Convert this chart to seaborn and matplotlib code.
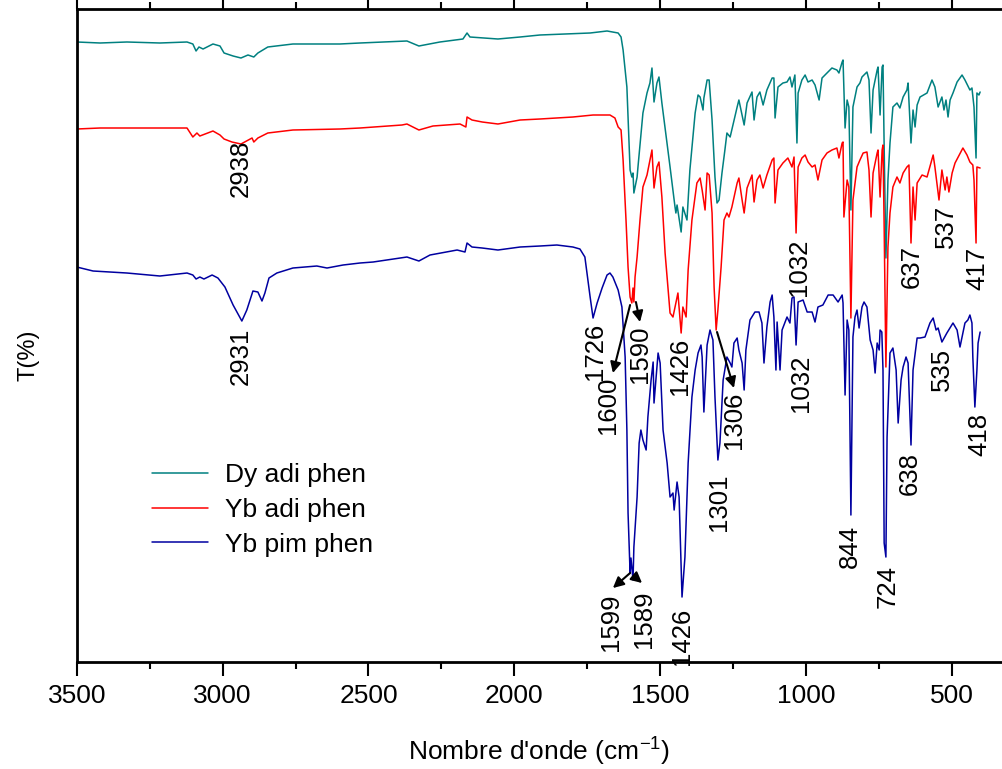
import matplotlib
matplotlib.use('Agg')
import matplotlib.pyplot as plt
import seaborn as sns
import pandas as pd

# spectra: wavenumber (cm-1) and transmittance (offset, arbitrary %)
dy_adi_wn = [3500, 3420, 3328, 3215, 3122, 3102, 3091, 3081, 3067, 3033,
             3009, 2995, 2964, 2937, 2913, 2893, 2879, 2845, 2759, 2598,
             2529, 2368, 2327, 2255, 2176, 2162, 2152, 2056, 1980, 1912,
             1740, 1682, 1644, 1634, 1627, 1614, 1603, 1597, 1593, 1590,
             1579, 1576, 1559, 1545, 1535, 1528, 1524, 1521, 1511, 1504,
             1494, 1466, 1449, 1446, 1442, 1428, 1422, 1408, 1398, 1380,
             1370, 1363, 1353, 1350, 1339, 1332, 1322, 1312, 1305, 1298,
             1288, 1278, 1271, 1260, 1236, 1230, 1219, 1212, 1202, 1185,
             1178, 1168, 1158, 1147, 1134, 1116, 1110, 1106, 1096, 1079,
             1065, 1055, 1048, 1038, 1031, 1027, 1014, 1003, 993, 979,
             969, 955, 945, 928, 911, 894, 887, 876, 873, 866,
             859, 853, 846, 839, 825, 815, 808, 791, 784, 777,
             770, 756, 753, 746, 739, 736, 732, 726, 719, 712,
             702, 688, 678, 667, 654, 650, 640, 633, 626, 619,
             609, 585, 568, 558, 547, 534, 527, 520, 513, 506,
             496, 482, 465, 455, 438, 431, 424, 417, 414, 407,
             403]
dy_adi_t = [61.8, 61.7, 61.8, 61.7, 61.8, 61.6, 60.9, 61.3, 61.1, 61.6,
            61.4, 60.7, 60.4, 60.2, 60.5, 60.3, 60.7, 61.3, 61.6, 61.6,
            61.7, 61.9, 61.4, 61.8, 62.1, 62.7, 62.3, 62.1, 62.3, 62.5,
            62.7, 62.9, 62.7, 62.3, 61.0, 57.3, 49.0, 48.3, 48.7, 46.7,
            48.3, 49.3, 54.7, 56.7, 57.7, 59.2, 57.3, 55.8, 57.7, 58.3,
            55.7, 49.3, 45.3, 44.7, 45.5, 42.8, 45.3, 44.0, 49.0, 54.7,
            56.5, 56.3, 55.0, 56.2, 58.0, 58.0, 54.0, 48.3, 45.7, 46.0,
            48.7, 51.0, 52.7, 52.3, 55.3, 56.0, 54.5, 53.5, 55.7, 56.8,
            54.0, 56.3, 56.8, 55.5, 57.0, 58.2, 58.2, 54.2, 57.3, 57.7,
            57.8, 58.3, 57.3, 58.5, 51.7, 56.7, 58.0, 58.5, 57.8, 58.0,
            57.5, 56.0, 58.2, 58.7, 59.2, 59.0, 58.7, 59.8, 60.0, 53.2,
            56.0, 55.3, 45.0, 55.3, 57.3, 57.7, 58.3, 58.8, 58.0, 52.7,
            57.0, 59.0, 59.3, 54.5, 59.3, 59.5, 51.3, 40.2, 48.0, 51.7,
            55.3, 55.7, 55.2, 56.3, 57.0, 57.7, 51.7, 55.0, 53.3, 55.5,
            56.3, 56.7, 58.0, 57.3, 55.3, 56.3, 55.0, 56.0, 54.3, 56.0,
            56.7, 57.8, 58.5, 58.0, 57.0, 57.2, 55.3, 50.2, 56.7, 56.5,
            56.8]

yb_adi_wn = [3500, 3420, 3328, 3215, 3122, 3102, 3088, 3078, 3033, 3009,
             2995, 2968, 2937, 2899, 2893, 2879, 2845, 2759, 2598, 2529,
             2385, 2368, 2327, 2279, 2186, 2166, 2162, 2145, 2110, 2056,
             1980, 1912, 1799, 1730, 1672, 1655, 1644, 1634, 1627, 1617,
             1610, 1603, 1597, 1593, 1590, 1586, 1579, 1569, 1559, 1545,
             1535, 1528, 1521, 1511, 1504, 1494, 1483, 1466, 1456, 1446,
             1439, 1428, 1422, 1411, 1404, 1391, 1374, 1363, 1356, 1346,
             1339, 1332, 1322, 1315, 1308, 1302, 1291, 1281, 1271, 1264,
             1254, 1236, 1230, 1219, 1212, 1202, 1185, 1178, 1168, 1158,
             1147, 1134, 1116, 1110, 1106, 1096, 1079, 1062, 1048, 1041,
             1034, 1027, 1014, 1003, 993, 979, 969, 959, 945, 928,
             911, 894, 887, 876, 873, 870, 859, 853, 846, 839,
             825, 815, 804, 791, 784, 777, 770, 756, 753, 746,
             739, 736, 732, 726, 719, 712, 702, 688, 678, 667,
             654, 647, 640, 633, 626, 619, 602, 585, 564, 558,
             544, 534, 523, 517, 510, 499, 489, 462, 448, 438,
             428, 424, 417, 414, 403]
yb_adi_t = [53.1, 53.2, 53.2, 53.2, 53.2, 52.3, 52.7, 52.4, 52.9, 52.5,
            52.1, 51.8, 51.6, 52.2, 51.8, 52.2, 52.7, 53.0, 53.1, 53.2,
            53.5, 53.6, 53.0, 53.4, 53.6, 53.3, 54.3, 54.0, 53.8, 53.6,
            54.0, 54.1, 54.3, 54.5, 54.5, 54.2, 53.3, 53.0, 50.0, 44.0,
            39.3, 36.3, 35.7, 37.2, 35.8, 38.3, 40.3, 44.0, 47.3, 48.5,
            50.0, 51.0, 47.2, 49.3, 49.8, 46.3, 40.7, 34.7, 34.3, 35.7,
            36.7, 32.7, 35.3, 34.3, 39.0, 44.0, 47.7, 48.2, 47.0, 45.0,
            48.7, 48.5, 44.7, 37.3, 33.0, 35.0, 39.3, 44.0, 44.7, 44.3,
            45.3, 47.7, 48.2, 46.0, 44.7, 47.2, 48.5, 45.8, 48.0, 48.5,
            47.2, 48.5, 50.0, 50.2, 45.7, 49.0, 49.7, 50.2, 49.3, 50.3,
            42.7, 49.3, 50.2, 50.5, 49.8, 49.3, 49.5, 48.0, 50.0, 50.7,
            51.0, 51.2, 50.2, 51.7, 51.8, 44.3, 48.0, 47.3, 34.2, 46.0,
            49.3, 50.0, 50.7, 50.8, 49.0, 44.3, 48.7, 50.7, 51.0, 46.3,
            51.0, 51.5, 43.3, 29.3, 41.3, 44.7, 47.3, 48.3, 47.7, 48.7,
            49.3, 49.5, 41.7, 47.3, 44.0, 47.7, 48.5, 48.3, 50.5, 49.3,
            46.0, 49.0, 47.0, 48.3, 46.8, 48.7, 49.7, 51.2, 50.5, 49.8,
            49.5, 48.0, 41.7, 49.3, 49.2]

yb_pim_wn = [3500, 3444, 3328, 3215, 3122, 3102, 3091, 3078, 3064, 3036,
             3016, 2992, 2964, 2934, 2917, 2896, 2879, 2865, 2855, 2841,
             2814, 2759, 2677, 2642, 2587, 2529, 2484, 2368, 2327, 2289,
             2196, 2169, 2162, 2145, 2110, 2056, 1980, 1912, 1854, 1799,
             1775, 1758, 1740, 1730, 1716, 1699, 1682, 1672, 1662, 1644,
             1631, 1620, 1614, 1610, 1603, 1600, 1593, 1590, 1579, 1572,
             1566, 1559, 1548, 1542, 1531, 1524, 1521, 1507, 1500, 1490,
             1476, 1466, 1456, 1452, 1442, 1435, 1425, 1415, 1404, 1391,
             1380, 1370, 1360, 1356, 1350, 1339, 1329, 1319, 1312, 1302,
             1295, 1284, 1271, 1260, 1254, 1247, 1236, 1230, 1219, 1212,
             1206, 1192, 1175, 1161, 1151, 1144, 1134, 1123, 1116, 1110,
             1103, 1099, 1089, 1082, 1065, 1055, 1048, 1041, 1034, 1027,
             1010, 996, 979, 969, 959, 942, 924, 907, 890, 876,
             873, 866, 859, 853, 846, 839, 832, 825, 818, 808,
             801, 791, 780, 770, 763, 756, 749, 746, 740, 736,
             732, 726, 722, 712, 702, 691, 684, 674, 667, 657,
             650, 640, 633, 619, 609, 592, 575, 564, 554, 547,
             534, 517, 496, 482, 472, 455, 445, 438, 431, 428,
             421, 414, 410, 403]
yb_pim_t = [39.3, 38.9, 38.7, 38.4, 38.7, 38.5, 38.1, 38.3, 38.1, 38.5,
            38.2, 37.3, 35.5, 33.9, 35.0, 36.9, 36.8, 35.9, 36.7, 38.2,
            38.7, 39.2, 39.4, 39.2, 39.5, 39.7, 39.8, 40.3, 39.9, 40.5,
            41.0, 40.8, 41.7, 41.3, 41.2, 41.0, 41.3, 41.4, 41.5, 41.3,
            41.1, 40.3, 36.3, 34.2, 35.7, 37.2, 38.5, 38.7, 38.3, 37.0,
            35.3, 30.3, 23.0, 14.7, 8.7, 10.2, 8.0, 11.3, 16.3, 21.7,
            23.0, 22.0, 21.0, 24.3, 28.0, 29.8, 25.7, 30.7, 29.7, 23.0,
            19.7, 16.3, 16.7, 15.0, 17.8, 16.3, 6.3, 10.3, 19.7, 26.3,
            29.0, 30.7, 31.5, 30.3, 24.8, 31.5, 33.0, 32.0, 26.3, 20.0,
            21.7, 28.0, 30.3, 29.7, 29.3, 31.7, 32.2, 31.0, 29.7, 27.0,
            31.0, 34.0, 34.8, 34.8, 33.7, 29.7, 33.3, 35.8, 36.5, 34.3,
            29.0, 33.8, 29.0, 33.0, 34.3, 33.7, 36.2, 36.3, 31.5, 35.8,
            36.0, 34.8, 34.8, 33.8, 35.3, 35.5, 36.5, 36.5, 35.8, 36.5,
            35.7, 26.5, 34.0, 33.0, 14.5, 32.3, 34.3, 35.0, 33.2, 35.3,
            35.8, 35.3, 32.0, 31.0, 28.7, 31.7, 31.0, 33.0, 32.8, 29.0,
            11.7, 10.3, 22.3, 30.7, 31.2, 29.0, 23.7, 28.0, 29.3, 30.3,
            29.7, 21.5, 29.0, 32.2, 32.2, 32.3, 33.7, 34.2, 33.0, 33.2,
            31.8, 32.7, 33.7, 33.0, 31.3, 33.7, 34.0, 34.5, 33.7, 30.3,
            25.3, 29.0, 31.7, 32.8]

series_names = ['Dy adi phen', 'Yb adi phen', 'Yb pim phen']
series_colors = ['#008080', '#FF0000', '#0000A0']

# peak labels (rotated), anchored at their top end
peak_labels = ['2938', '2931', '1726', '1600', '1590', '1426', '1306', '1301',
               '1032', '637', '537', '417', '1032', '844', '724', '638',
               '535', '418', '1599', '1589', '1426']
label_x = [2937, 2937, 1724, 1678, 1569, 1432, 1247, 1298,
           1024, 637, 520, 414, 1017, 849, 719, 644,
           534, 407, 1668, 1555, 1425]
label_y = [52.0, 33.2, 33.7, 28.3, 33.5, 32.2, 26.8, 18.7,
           42.1, 41.5, 45.5, 41.3, 30.5, 13.5, 9.5, 20.8,
           31.2, 24.7, 6.7, 7.0, 5.2]

# arrows linking peaks to labels
arrow_from_x = [1603, 1583, 1305, 1603, 1586]
arrow_from_y = [35.5, 35.8, 32.8, 8.7, 8.3]
arrow_to_x = [1662, 1569, 1247, 1662, 1562]
arrow_to_y = [28.7, 33.8, 27.2, 7.2, 7.7]

frames = []
for name, wn, t in zip(series_names,
                       [dy_adi_wn, yb_adi_wn, yb_pim_wn],
                       [dy_adi_t, yb_adi_t, yb_pim_t]):
    frames.append(pd.DataFrame({'wn': wn, 'T': t, 'sample': name}))
df = pd.concat(frames, ignore_index=True)

sns.set_style('ticks')
plt.rcParams['font.family'] = ['Liberation Sans', 'DejaVu Sans']
plt.rcParams['mathtext.default'] = 'regular'
for key in ['text.color', 'axes.labelcolor', 'xtick.color', 'ytick.color', 'axes.edgecolor']:
    plt.rcParams[key] = 'black'

fig = plt.figure(figsize=(10.02, 7.69), dpi=100)
ax = fig.add_axes([0.0766, 0.1391, 0.9234, 0.8492])

sns.lineplot(data=df, x='wn', y='T', hue='sample', palette=series_colors,
             hue_order=series_names, estimator=None, sort=False, lw=1.1, ax=ax)

for txt, x, y in zip(peak_labels, label_x, label_y):
    ax.text(x, y, txt, rotation=90, ha='center', va='top', fontsize=18.5, color='black')

for x0, y0, x1, y1 in zip(arrow_from_x, arrow_from_y, arrow_to_x, arrow_to_y):
    ax.annotate('', xy=(x1, y1), xytext=(x0, y0),
                arrowprops=dict(arrowstyle='-|>', color='black', lw=1.5,
                                mutation_scale=16, shrinkA=0, shrinkB=0))

ax.set_xlim(3500, 328)
ax.set_ylim(-0.2, 65.1)
ax.set_xticks([3500, 3000, 2500, 2000, 1500, 1000, 500])
ax.set_xticks([3250, 2750, 2250, 1750, 1250, 750], minor=True)
ax.set_yticks([])
ax.tick_params(axis='x', which='major', labelsize=19, length=10, width=1.5, direction='out', pad=6)
ax.tick_params(axis='x', which='minor', length=5, width=1.5, direction='out')
ax.tick_params(axis='x', which='both', top=True)
for side in ['left', 'bottom', 'top']:
    ax.spines[side].set_linewidth(2)
ax.spines['right'].set_visible(False)

ax.set_xlabel("Nombre d'onde (cm$^{-1}$)", fontsize=19, labelpad=20)
ax.set_ylabel('T(%)', fontsize=17)
ax.yaxis.set_label_coords(-0.04, 0.47)

ax.legend(loc='center left', bbox_to_anchor=(0.1387, 0.3368),
          bbox_transform=fig.transFigure, frameon=False, fontsize=19,
          handlelength=2.1, handletextpad=0.65, labelspacing=0.4, borderpad=0)

plt.savefig('out.png', dpi=100)
